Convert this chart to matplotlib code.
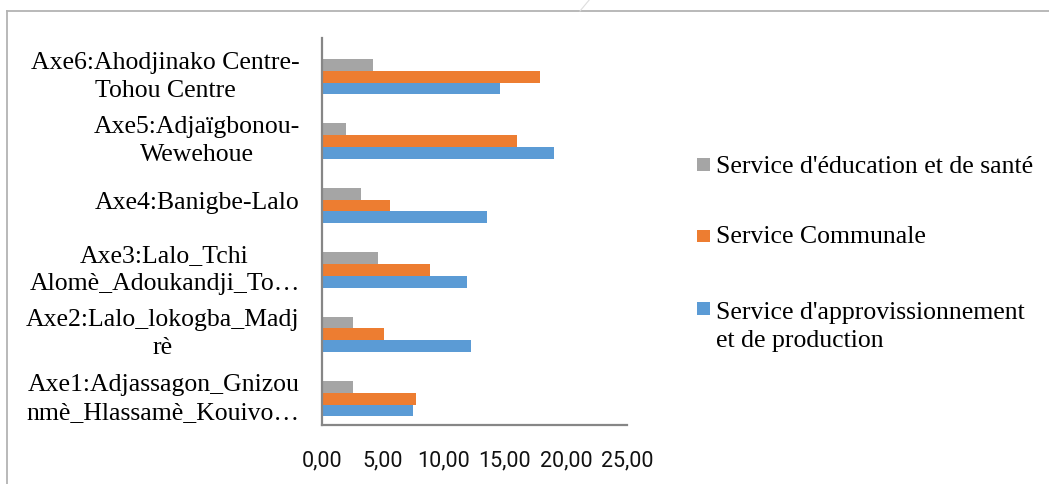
import matplotlib
matplotlib.use("Agg")
import matplotlib.pyplot as plt
from matplotlib.lines import Line2D
from matplotlib.patches import Rectangle

# Categories (bottom to top) and series values
categories = [
    "Axe1:Adjassagon_Gnizou\nnmè_Hlassamè_Kouivo…",
    "Axe2:Lalo_lokogba_Madj\nrè",
    "Axe3:Lalo_Tchi\nAlomè_Adoukandji_To…",
    "Axe4:Banigbe-Lalo",
    "Axe5:Adjaïgbonou-\nWewehoue",
    "Axe6:Ahodjinako Centre-\nTohou Centre",
]
approvisionnement = [7.43, 12.24, 11.86, 13.50, 19.00, 14.60]
communale = [7.68, 5.10, 8.83, 5.57, 16.00, 17.87]
education_sante = [2.50, 2.57, 4.56, 3.20, 2.00, 4.15]

series_names = [
    "Service d'éducation et de santé",
    "Service Communale",
    "Service d'approvissionnement\net de production",
]
x_ticks = [0, 5, 10, 15, 20, 25]
x_tick_labels = ["0,00", "5,00", "10,00", "15,00", "20,00", "25,00"]

BLUE = "#5B9BD5"
ORANGE = "#ED7D31"
GRAY = "#A5A5A5"

W, H = 1049, 485
fig = plt.figure(figsize=(W / 100, H / 100), dpi=100)
fig.patch.set_facecolor("white")


def fx(px):
    return px / W


def fy(py):
    return 1 - py / H


# outer chart frame
fig.add_artist(Line2D([fx(7), fx(7)], [fy(12), fy(H + 5)], color="#b3b3b3", lw=1.3))
fig.add_artist(Line2D([fx(7), fx(W + 5)], [fy(12), fy(12)], color="#b3b3b3", lw=1.3))
fig.add_artist(Line2D([fx(590), fx(580)], [fy(0), fy(12)], color="#dedede", lw=0.8))

ax = fig.add_axes([fx(322), fy(425.5), fx(627) - fx(322), (425.5 - 39) / H])

h = 0.183
shift = -0.10
pos = [i + shift for i in range(len(categories))]
ax.barh([p - h for p in pos], approvisionnement, height=h, color=BLUE)
ax.barh(pos, communale, height=h, color=ORANGE)
ax.barh([p + h for p in pos], education_sante, height=h, color=GRAY)

ax.set_xlim(0, 25)
ax.set_ylim(-0.5, len(categories) - 0.5)
ax.set_xticks(x_ticks)
ax.set_xticklabels(x_tick_labels, fontfamily="Roboto", fontsize=15.5, color="#111111")
ax.set_yticks(range(len(categories)))
ax.set_yticklabels(categories, fontfamily="Liberation Serif", fontsize=18.5,
                   color="black", linespacing=1.36, multialignment="center")
ax.tick_params(axis="both", length=0)
ax.tick_params(axis="x", pad=18)
ax.tick_params(axis="y", pad=16)

for s in ["top", "right"]:
    ax.spines[s].set_visible(False)
for s in ["left", "bottom"]:
    ax.spines[s].set_color("#868686")
    ax.spines[s].set_linewidth(1.6)

# legend drawn at the right of the plot
legend_colors = [GRAY, ORANGE, BLUE]
square_tops = [159, 230.7, 303.3]
last_baselines = [173.3, 243.3, 346.5]
for name, col, top, base in zip(series_names, legend_colors, square_tops, last_baselines):
    fig.add_artist(Rectangle((fx(697.3), fy(top + 12.7)), fx(12.7), 12.7 / H,
                             facecolor=col, edgecolor="none"))
    fig.text(fx(716), fy(base), name, fontfamily="Liberation Serif", fontsize=18.5,
             color="black", va="baseline", ha="left", linespacing=1.3)

fig.savefig("out.png", dpi=100)
